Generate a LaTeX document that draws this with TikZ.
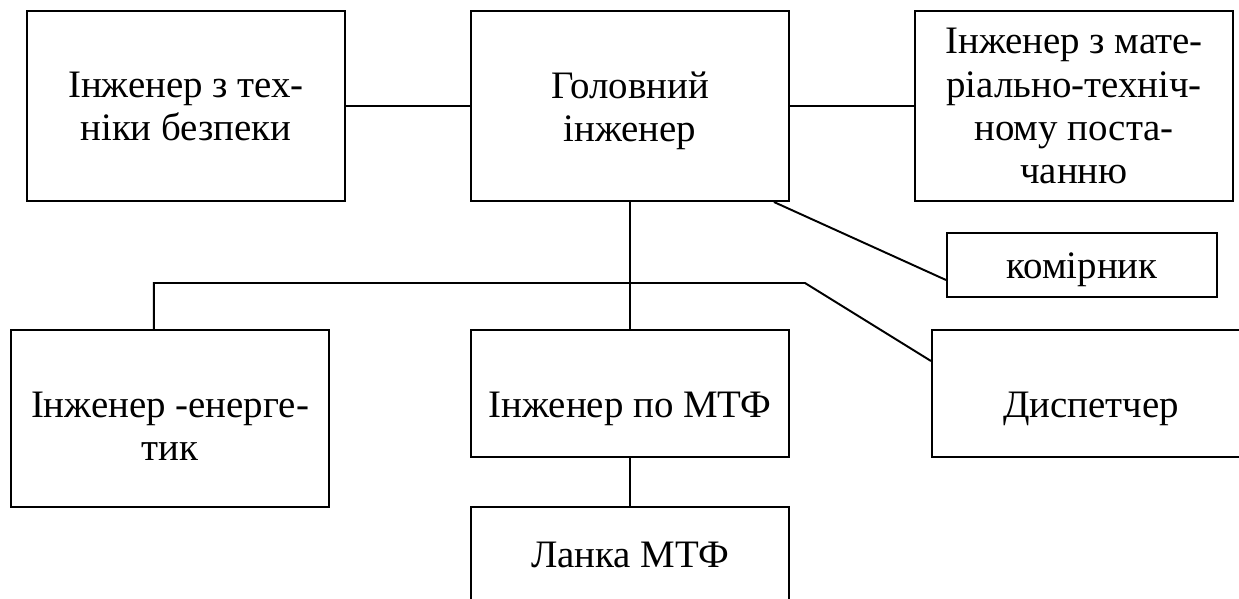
\documentclass[tikz,border=0pt]{standalone}
\usepackage{fontspec}
\setmainfont{Liberation Serif}
\begin{document}
\begin{tikzpicture}[x=0.36pt, y=-0.36pt]
  \tikzstyle{post} = [rectangle, draw, line width = 0.7pt, inner sep = 0pt, minimum width = 114.5pt, align = center, font = \fontsize{14}{15.5}\selectfont]
  \tikzstyle{link} = [-, line width = 0.7pt]

  \useasboundingbox (0,0) rectangle (1239,598);
  \clip (0,0) rectangle (1239,598);

  \node [post, minimum height = 68.4pt] at (186,106) (safety) {Інженер з тех-\\ніки безпеки};
  \node [post, minimum height = 68.4pt] at (630,106) (chief) {\rule{0pt}{13pt}Головний\\інженер};
  \node [post, minimum height = 68.4pt] at (1074,106) (supply) {Інженер з мате-\\ріально-техніч-\\ному поста-\\чанню};
  \node [post, minimum width = 97.2pt, minimum height = 23pt, text height = 10pt, text depth = 0pt] at (1082,265) (keeper) {комірник};
  \node [post, minimum height = 63.7pt] at (170,418.5) (power) {\rule{0pt}{15pt}Інженер -енерге-\\тик};
  \node [post, minimum height = 45.7pt, text height = 17pt, text depth = 0pt] at (630,393.5) (farm) {Інженер по МТФ};
  \node [post, minimum height = 45.7pt, text height = 17.6pt, text depth = 0pt] at (1091,393.5) (dispatch) {Диспетчер};
  \node [post, minimum height = 34.6pt] at (630,555) (unit) {Ланка МТФ};

  \coordinate (bend) at (805,283);

  \draw[link] (safety) to (chief);
  \draw[link] (chief) to (supply);
  \draw[link] ([xshift = -5.8pt]chief.south east) to ([yshift = -5.4pt]keeper.west);
  \draw[link] (chief) to (farm);
  \draw[link] ([xshift = -5.8pt]power.north) |- (bend) to ([yshift = 11.7pt]dispatch.west);
  \draw[link] (farm) to (unit);
\end{tikzpicture}
\end{document}
